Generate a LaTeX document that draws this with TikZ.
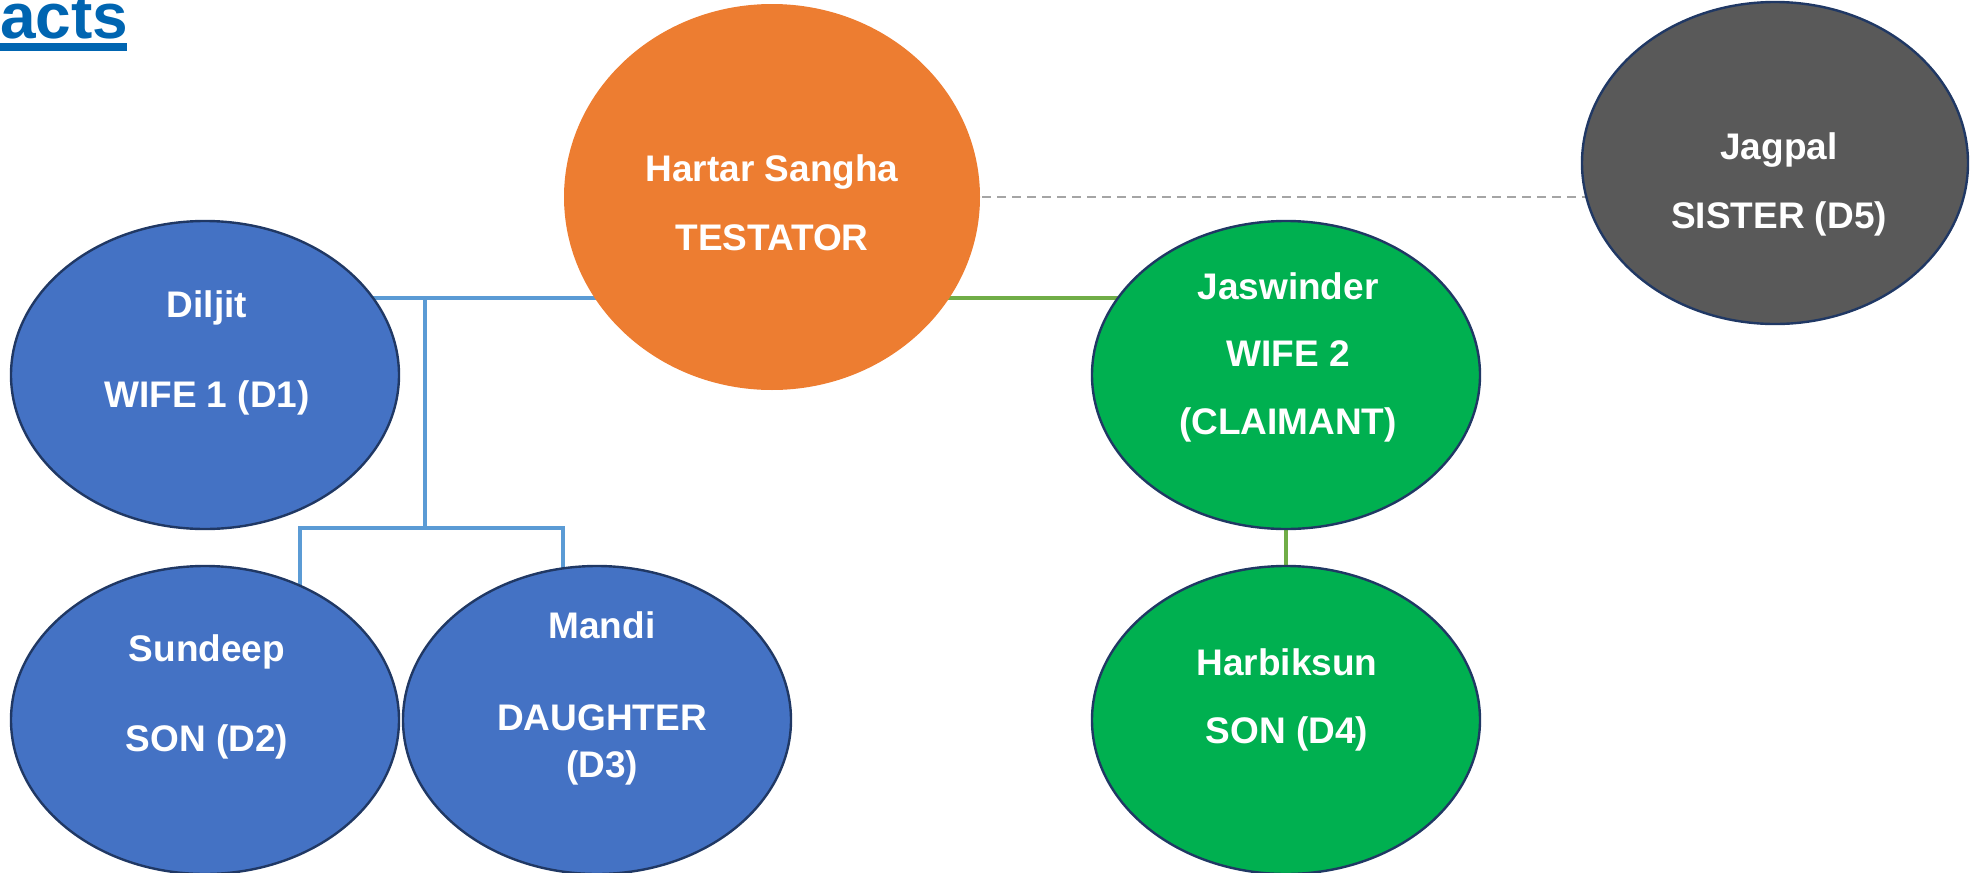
\documentclass[tikz,border=0pt]{standalone}
\usepackage{fontspec}
\setmainfont{Liberation Sans}
\usetikzlibrary{shapes.geometric, backgrounds}
\definecolor{titleblue}{RGB}{0,101,177}
\definecolor{wifeblue}{RGB}{68,114,196}
\definecolor{testorange}{RGB}{237,125,49}
\definecolor{claimgreen}{RGB}{0,176,80}
\definecolor{sistergrey}{RGB}{89,89,89}
\definecolor{edgenavy}{RGB}{32,56,100}
\definecolor{linkblue}{RGB}{91,155,213}
\definecolor{linkgreen}{RGB}{112,173,71}
\definecolor{linkgrey}{RGB}{165,165,165}

\begin{document}
\begin{tikzpicture}[x=0.5pt, y=-0.5pt,
    person/.style={ellipse, draw=edgenavy, line width=1.2pt, inner sep=0pt,
        minimum width=194pt, minimum height=154pt},
    lbl/.style={text=white, font=\fontsize{18.5}{22}\selectfont\bfseries,
        align=center, inner sep=0pt},
    bluelink/.style={linkblue, line width=1.7pt},
    greenlink/.style={linkgreen, line width=1.7pt}]

    \useasboundingbox (0,0) rectangle (1978,873);
    \clip (0,0) rectangle (1978,873);

    % === TITRE ===
    \node[anchor=base west, inner sep=0pt, text=titleblue,
        font=\fontsize{32}{36}\selectfont\bfseries] (title) at (0,38) {acts};
    \fill[titleblue] (0,43) rectangle (127,51);

    % === TESTATEUR ===
    \node[person, draw=none, fill=testorange, minimum width=208pt, minimum height=193pt] (testator) at (772,197) {};
    \node[lbl] (testator-t) at (772,203) {Hartar Sangha\\[12.5pt]TESTATOR};

    % === FAMILLE 1 ===
    \node[person, fill=wifeblue] (diljit) at (205,375) {};
    \node[lbl] (diljit-t) at (207,353) {Diljit\\[23pt]WIFE 1 (D1)};

    \node[person, fill=wifeblue] (sundeep) at (205,720) {};
    \node[lbl] (sundeep-t) at (207,697) {Sundeep\\[23pt]SON (D2)};

    \node[person, fill=wifeblue] (mandi) at (597,720) {};
    \node[lbl] (mandi-t) at (602,698) {Mandi\\[24pt]DAUGHTER\\[1.5pt](D3)};

    % === FAMILLE 2 ===
    \node[person, fill=claimgreen] (jaswinder) at (1286,375) {};
    \node[lbl] (jaswinder-t) at (1288,357) {Jaswinder\\[11.5pt]WIFE 2\\[12pt](CLAIMANT)};

    \node[person, fill=claimgreen] (harbiksun) at (1286,720) {};
    \node[lbl] (harbiksun-t) at (1287,700) {Harbiksun\\[12pt]SON (D4)};

    % === SOEUR ===
    \node[person, fill=sistergrey, minimum width=193pt, minimum height=161pt] (jagpal) at (1775,163) {};
    \node[lbl] (jagpal-t) at (1779,184) {Jagpal\\[12.5pt]SISTER (D5)};

    % === LIENS ===
    \coordinate (wed1) at (425,298);
    \coordinate (kids) at (425,528);
    \coordinate (kidL) at (300,528);
    \coordinate (kidR) at (563,528);
    \begin{pgfonlayer}{background}
        \draw[bluelink] (diljit.center |- wed1) -- (testator.center |- wed1);
        \draw[bluelink] (wed1) -- (kids);
        \draw[bluelink] (kidL |- sundeep.center) -- (kidL) -- (kidR) -- (kidR |- mandi.center);
        \draw[greenlink] (testator.center |- wed1) -- (jaswinder.center |- wed1);
        \draw[greenlink] (jaswinder) -- (harbiksun);
        \draw[linkgrey, line width=0.75pt, dash pattern=on 4.5pt off 3pt]
            (testator.center) -- (testator.center -| jagpal.center);
    \end{pgfonlayer}

\end{tikzpicture}
\end{document}
